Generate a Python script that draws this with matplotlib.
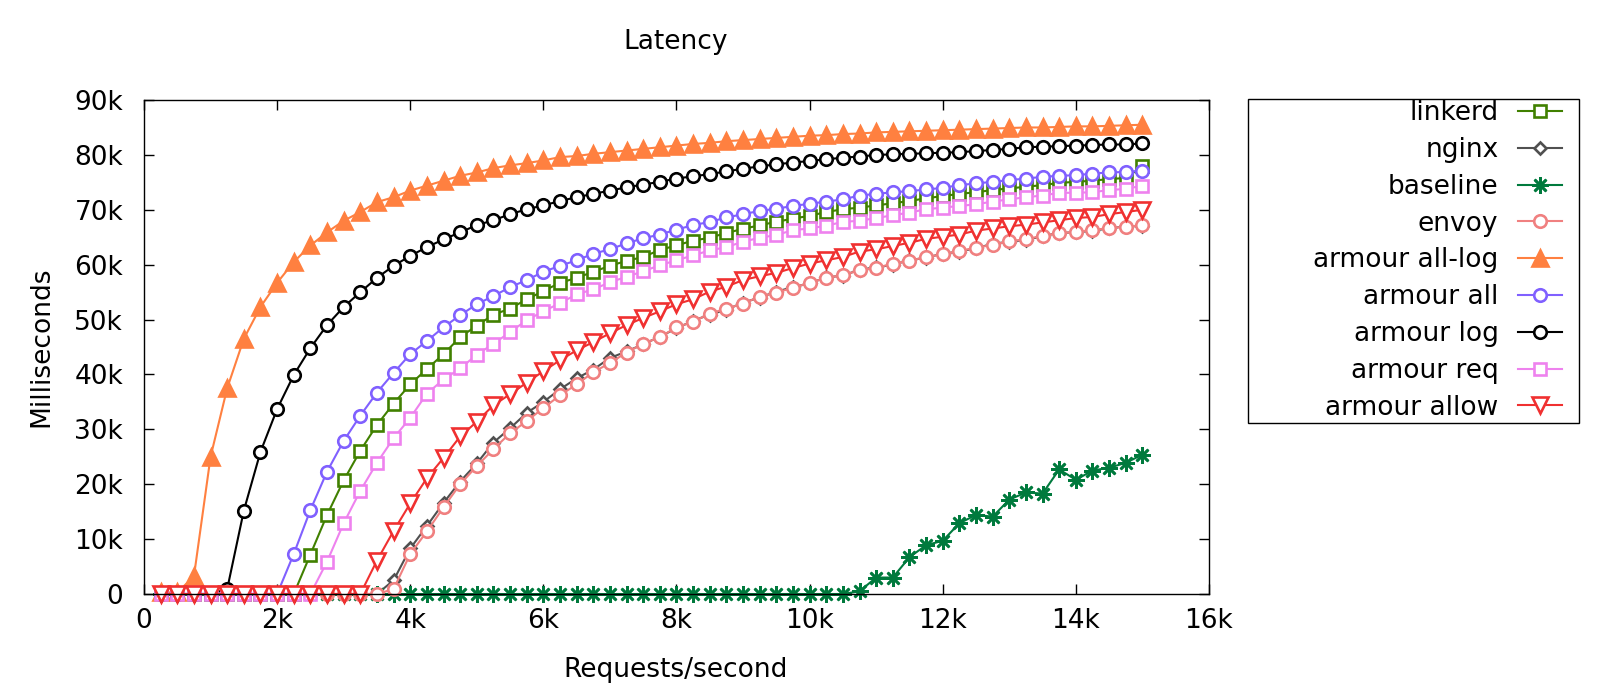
import matplotlib
matplotlib.use('Agg')
import matplotlib.pyplot as plt
from matplotlib.patches import Rectangle
from matplotlib.ticker import FuncFormatter, MultipleLocator

# requests/second, one point every 250
rps = list(range(250, 15001, 250))

# latency in thousands of ms
linkerd = [0] * 9 + [7.2, 14.4, 20.7, 26.1, 30.8, 34.7, 38.2, 41.0, 43.7, 46.8,
                     48.9, 50.9, 52.0, 53.7, 55.2, 56.7, 57.6, 58.7, 59.8, 60.7,
                     61.4, 62.7, 63.5, 64.4, 64.9, 65.8, 66.5, 67.2, 67.8, 68.4,
                     68.9, 69.6, 70.1, 70.4, 70.8, 71.2, 71.6, 72.1, 72.5, 72.9,
                     73.2, 73.6, 73.9, 74.2, 74.5, 74.9, 75.1, 75.3, 75.6, 75.8,
                     77.9]
nginx = [0] * 14 + [2.5, 8.3, 12.4, 16.6, 20.5, 23.8, 27.6, 30.2, 33.0, 35.0,
                    37.3, 39.3, 40.9, 43.0, 44.2, 45.5, 46.9, 48.4, 49.8, 50.9,
                    51.8, 53.1, 54.0, 55.1, 55.9, 56.6, 57.7, 58.0, 59.1, 59.5,
                    60.0, 60.8, 61.3, 62.0, 62.4, 63.0, 63.8, 64.2, 64.5, 65.2,
                    65.8, 65.9, 66.2, 66.6, 67.0, 67.0]
baseline = [0] * 42 + [0.5, 3.0, 3.0, 6.7, 8.9, 9.7, 12.9, 14.4, 14.1, 17.2,
                       18.5, 18.3, 22.7, 20.8, 22.5, 23.0, 23.9, 25.4]
envoy = [0] * 14 + [0.9, 7.3, 11.4, 15.8, 20.0, 23.3, 26.4, 29.3, 31.5, 33.9,
                    36.2, 38.2, 40.4, 42.1, 44.0, 45.6, 46.8, 48.6, 49.6, 51.1,
                    52.0, 52.9, 54.2, 54.9, 55.8, 56.7, 57.6, 58.1, 59.0, 59.4,
                    60.2, 60.7, 61.4, 61.9, 62.5, 63.1, 63.6, 64.3, 64.6, 65.3,
                    65.7, 66.0, 66.3, 66.7, 66.9, 67.2]
all_log = [0.3, 0.3, 3.2, 25.0, 37.5, 46.5, 52.3, 56.7, 60.5, 63.5,
           65.9, 68.0, 69.6, 71.4, 72.3, 73.5, 74.4, 75.3, 76.2, 76.8,
           77.6, 78.1, 78.5, 79.0, 79.6, 79.8, 80.2, 80.5, 80.8, 81.1,
           81.4, 81.7, 82.0, 82.2, 82.5, 82.7, 82.9, 83.1, 83.3, 83.5,
           83.6, 83.8, 83.9, 84.1, 84.2, 84.3, 84.4, 84.5, 84.6, 84.7,
           84.8, 84.9, 85.0, 85.0, 85.1, 85.2, 85.2, 85.3, 85.4, 85.5]
armour_all = [0] * 8 + [7.3, 15.3, 22.3, 27.9, 32.5, 36.7, 40.3, 43.7, 46.1, 48.6,
                        50.8, 52.8, 54.3, 55.9, 57.2, 58.7, 59.8, 60.8, 62.0, 62.8,
                        63.9, 64.8, 65.5, 66.4, 67.2, 67.8, 68.6, 69.2, 69.8, 70.2,
                        70.7, 71.1, 71.5, 71.9, 72.6, 72.9, 73.2, 73.4, 73.7, 74.0,
                        74.5, 74.8, 75.1, 75.4, 75.7, 76.0, 76.2, 76.3, 76.6, 76.8,
                        76.9, 77.1]
armour_log = [0, 0, 0, 0, 0.9, 15.2, 25.9, 33.7, 39.9, 44.8,
              49.0, 52.3, 55.0, 57.6, 59.8, 61.6, 63.2, 64.6, 65.9, 67.2,
              68.1, 69.2, 70.1, 70.8, 71.6, 72.3, 72.9, 73.5, 74.1, 74.6,
              75.1, 75.7, 76.1, 76.5, 77.0, 77.5, 77.9, 78.3, 78.6, 78.9,
              79.2, 79.5, 79.7, 80.0, 80.1, 80.2, 80.3, 80.4, 80.5, 80.7,
              80.9, 81.1, 81.4, 81.5, 81.6, 81.7, 81.8, 81.9, 81.9, 82.1]
armour_req = [0] * 10 + [5.9, 12.9, 18.8, 23.9, 28.4, 32.1, 36.5, 39.1, 41.1, 43.6,
                         45.6, 47.7, 49.9, 51.5, 53.0, 54.6, 55.5, 56.8, 57.8, 58.8,
                         59.9, 60.8, 61.7, 62.6, 63.2, 64.2, 64.9, 65.4, 66.3, 66.6,
                         67.1, 67.8, 68.0, 68.5, 69.0, 69.5, 70.1, 70.4, 70.7, 71.0,
                         71.5, 71.9, 72.3, 72.6, 73.1, 73.1, 73.2, 73.6, 73.8, 74.4]
armour_allow = [0] * 13 + [6.1, 11.5, 16.5, 21.1, 24.8, 28.7, 31.4, 34.4, 36.4, 38.5,
                           40.6, 42.6, 44.4, 45.9, 47.5, 49.0, 50.3, 51.5, 52.8, 53.7,
                           55.1, 56.0, 57.2, 57.9, 58.5, 59.4, 60.2, 60.8, 61.4, 62.4,
                           62.8, 63.4, 64.0, 64.7, 65.1, 65.5, 66.2, 66.6, 67.0, 67.3,
                           67.7, 68.1, 68.5, 68.7, 69.2, 69.6, 70.0]

series = [
    ('linkerd', linkerd, '#408000', 's', 9, 'white'),
    ('nginx', nginx, '#505050', 'D', 6, 'white'),
    ('baseline', baseline, '#007a3d', (8, 2, 0), 12, 'none'),
    ('envoy', envoy, '#f08080', 'o', 9, 'white'),
    ('armour all-log', all_log, '#ff8040', '^', 12, '#ff8040'),
    ('armour all', armour_all, '#8060ff', 'o', 9, 'white'),
    ('armour log', armour_log, '#000000', 'o', 9, 'white'),
    ('armour req', armour_req, '#ee82ee', 's', 9, 'white'),
    ('armour allow', armour_allow, '#f03030', 'v', 12, 'white'),
]

fig = plt.figure(figsize=(16, 7), dpi=100)
ax = fig.add_axes([0.09, 0.1514, 0.6656, 0.7057])

for label, vals, color, marker, ms, fill in series:
    ax.plot(rps, vals, color=color, marker=marker, markersize=ms,
            markerfacecolor=fill, markeredgecolor=color, markeredgewidth=1.9,
            linewidth=1.5, label=label, clip_on=False)

ax.set_xlim(0, 16000)
ax.set_ylim(0, 90)
ax.xaxis.set_major_locator(MultipleLocator(2000))
ax.yaxis.set_major_locator(MultipleLocator(10))
ax.xaxis.set_major_formatter(FuncFormatter(lambda v, p: '0' if v == 0 else '%dk' % (v / 1000)))
ax.yaxis.set_major_formatter(FuncFormatter(lambda v, p: '0' if v == 0 else '%dk' % v))
ax.tick_params(direction='in', top=True, right=True, length=7, width=1, labelsize=19)
ax.tick_params(axis='y', pad=15)
ax.tick_params(axis='x', pad=10)
for s in ax.spines.values():
    s.set_linewidth(1)

fig.text(676 / 1600, 1 - 42 / 700, 'Latency', ha='center', va='center', fontsize=19)
fig.text(676 / 1600, 1 - 670 / 700, 'Requests/second', ha='center', va='center', fontsize=19)
fig.text(41 / 1600, 1 - 347 / 700, 'Milliseconds', ha='center', va='center',
         rotation=90, fontsize=19)

ax.legend(loc='upper right', bbox_to_anchor=(0.97625, 0.857), bbox_transform=fig.transFigure,
          frameon=False, markerfirst=False, fontsize=19, handlelength=1.67,
          handletextpad=0.74, labelspacing=0.41, borderpad=0, borderaxespad=0)
fig.add_artist(Rectangle((0.78, 0.3957), 0.2069, 0.4629, transform=fig.transFigure,
                         fill=False, edgecolor='black', linewidth=1))

fig.savefig('out.png', dpi=100)
